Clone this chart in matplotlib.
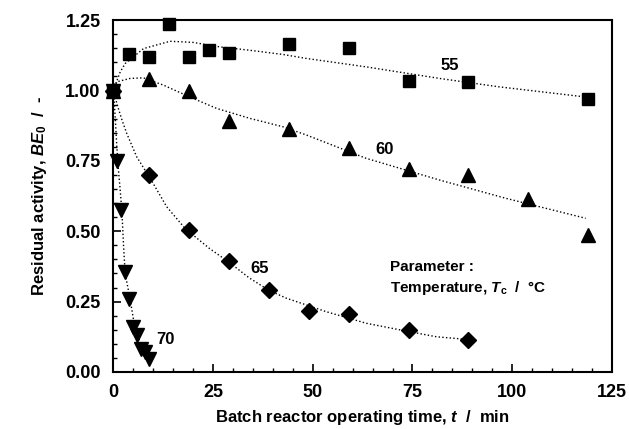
import matplotlib.pyplot as plt
from matplotlib.ticker import MultipleLocator

plt.rcParams['font.family'] = ['Liberation Sans', 'DejaVu Sans']
plt.rcParams['font.weight'] = 'bold'
plt.rcParams['mathtext.fontset'] = 'custom'
plt.rcParams['mathtext.it'] = 'Liberation Sans:italic:bold'
plt.rcParams['mathtext.rm'] = 'Liberation Sans:bold'

# measured data (time in min, residual activity)
t55 = [0, 4, 9, 14, 19, 24, 29, 44, 59, 74, 89, 119]
y55 = [1.00, 1.13, 1.12, 1.235, 1.12, 1.145, 1.135, 1.165, 1.15, 1.035, 1.03, 0.97]

t60 = [0, 9, 19, 29, 44, 59, 74, 89, 104, 119]
y60 = [1.00, 1.04, 1.00, 0.89, 0.865, 0.795, 0.72, 0.70, 0.615, 0.485]

t65 = [0, 9, 19, 29, 39, 49, 59, 74, 89]
y65 = [1.00, 0.70, 0.505, 0.395, 0.29, 0.215, 0.205, 0.15, 0.115]

t70 = [0, 1, 2, 3, 4, 5, 6, 7, 8, 9]
y70 = [1.00, 0.75, 0.575, 0.355, 0.26, 0.16, 0.13, 0.08, 0.07, 0.045]

# model curves
ft55 = [0, 1.75, 3, 7.6, 14.25, 20, 26.75, 34.25, 42.6, 48.4, 63.4, 81.75, 96.75, 118.4]
fy55 = [1.00, 1.066, 1.096, 1.149, 1.175, 1.171, 1.155, 1.143, 1.128, 1.114, 1.084, 1.043, 1.013, 0.977]

ft60 = [0, 0.9, 4.25, 7.6, 12.6, 20, 26, 34.25, 42.6, 48.4, 63.4, 81.75, 98.4, 118.4]
fy60 = [1.00, 1.031, 1.043, 1.045, 1.019, 0.972, 0.936, 0.901, 0.871, 0.842, 0.759, 0.682, 0.617, 0.546]

ft65 = [0, 0.5, 1.2, 2.2, 3.4, 5.9, 9.6, 13.4, 18, 24, 29, 34, 39, 43.4, 53.4, 63.4, 73.5, 81, 89]
fy65 = [1.00, 0.975, 0.94, 0.895, 0.847, 0.764, 0.680, 0.587, 0.510, 0.44, 0.39, 0.335, 0.29,
        0.262, 0.214, 0.173, 0.145, 0.125, 0.115]

ft70 = [0, 0.3, 0.6, 0.9, 1.3, 1.75, 2.2, 2.6, 3, 4.25, 5.1, 6.75, 9.25]
fy70 = [1.00, 0.95, 0.88, 0.80, 0.72, 0.646, 0.564, 0.445, 0.35, 0.256, 0.185, 0.103, 0.032]

fig = plt.figure(figsize=(6.29, 4.29), dpi=100)
ax = fig.add_axes([0.18, 0.133, 0.793, 0.82])

for ft, fy in [(ft55, fy55), (ft60, fy60), (ft65, fy65), (ft70, fy70)]:
    ax.plot(ft, fy, linestyle=':', color='black', linewidth=1.0)

ax.plot(t55, y55, 's', color='black', markersize=9, clip_on=False)
ax.plot(t60, y60, '^', color='black', markersize=10, clip_on=False)
ax.plot(t65, y65, 'D', color='black', markersize=8, clip_on=False)
ax.plot(t70, y70, 'v', color='black', markersize=10, clip_on=False)

ax.text(84.25, 1.09, '55', fontsize=12, fontweight='bold', ha='center', va='center')
ax.text(68, 0.792, '60', fontsize=12, fontweight='bold', ha='center', va='center')
ax.text(36.75, 0.369, '65', fontsize=12, fontweight='bold', ha='center', va='center')
ax.text(13, 0.114, '70', fontsize=12, fontweight='bold', ha='center', va='center')
ax.text(69.4, 0.374, 'Parameter :', fontsize=11, fontweight='bold', ha='left', va='center')
ax.text(69.4, 0.30, 'Temperature, $T_\\mathrm{c}$  /  \u00b0C', fontsize=11, fontweight='bold',
        ha='left', va='center')

ax.set_xlim(0, 125)
ax.set_ylim(0, 1.25)
ax.xaxis.set_major_locator(MultipleLocator(25))
ax.xaxis.set_minor_locator(MultipleLocator(5))
ax.yaxis.set_major_locator(MultipleLocator(0.25))
ax.yaxis.set_minor_locator(MultipleLocator(0.05))
ax.yaxis.set_major_formatter(plt.FormatStrFormatter('%.2f'))
ax.tick_params(which='both', direction='in', labelsize=13)
ax.tick_params(which='major', length=6, width=1.2, pad=9)
ax.tick_params(which='minor', length=3, width=1.0)
for lab in ax.get_xticklabels() + ax.get_yticklabels():
    lab.set_fontweight('bold')
for sp in ax.spines.values():
    sp.set_linewidth(1.5)

ax.set_xlabel('Batch reactor operating time, $t$  /  min', fontsize=12, fontweight='bold', labelpad=5)
ax.set_ylabel('Residual activity, $BE_0$  /  -', fontsize=12, fontweight='bold', labelpad=12)

fig.savefig('out.png', dpi=100)
